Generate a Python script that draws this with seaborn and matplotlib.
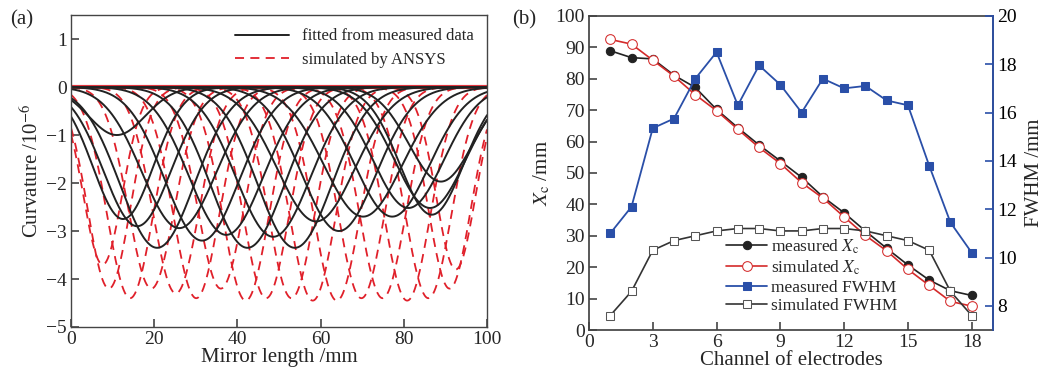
import numpy as np
import pandas as pd
import matplotlib
matplotlib.use('Agg')
import matplotlib.pyplot as plt
import seaborn as sns

# 通道数据
channel = np.arange(1, 19)
xc_measured = [88.9, 86.7, 86.3, 81.1, 77.2, 70.2, 64.4, 58.9, 53.8, 48.6,
               42.4, 37.3, 31.5, 26.0, 20.7, 15.9, 12.5, 11.0]
xc_simulated = [92.5, 91.0, 85.9, 80.8, 74.9, 69.8, 63.9, 58.1, 53.0, 46.9,
                42.0, 36.0, 30.1, 25.2, 19.3, 14.2, 9.1, 7.6]
fwhm_measured = [11.0, 12.1, 15.35, 15.75, 17.4, 18.5, 16.3, 17.95, 17.15, 16.0,
                 17.4, 17.0, 17.1, 16.5, 16.3, 13.8, 11.45, 10.2]
fwhm_simulated = [7.6, 8.6, 10.3, 10.7, 10.9, 11.1, 11.2, 11.2, 11.1, 11.1,
                  11.2, 11.2, 11.1, 10.9, 10.7, 10.3, 8.6, 7.6]
# 曲率峰值深度 (单位 1e-6)
depth_measured = [1.97, 2.66, 2.52, 2.52, 2.7, 2.7, 3.0, 2.8, 3.35, 3.12,
                  3.35, 3.08, 3.2, 2.94, 3.35, 2.9, 2.75, 1.0]
depth_simulated = [3.8, 4.2, 4.4, 4.45, 4.4, 4.4, 4.45, 4.45, 4.4, 4.4,
                   4.45, 4.2, 4.4, 4.3, 4.2, 4.4, 4.2, 3.7]
# 曲率曲线在 (a) 中的视宽 (mm), 从图中估计
width_fit = [18, 18, 20, 20, 21, 22, 21, 22, 21, 21, 21, 21, 21, 21, 21, 19, 17, 16]
width_sim = [11, 12, 13, 13, 13, 13, 13, 13, 13, 13, 13, 13, 13, 13, 13, 13, 12, 11]

x = np.linspace(0, 100, 601)
rows = []
for i in range(18):
    for kind, xc, fw, d in [('fit', xc_measured[i], width_fit[i], depth_measured[i]),
                            ('sim', xc_simulated[i], width_sim[i], depth_simulated[i])]:
        y = -d * np.exp(-4 * np.log(2) * (x - xc) ** 2 / fw ** 2)
        rows.append(pd.DataFrame({'x': x, 'y': y, 'kind': kind, 'ch': i}))
curves = pd.concat(rows, ignore_index=True)

sns.set_theme(style='ticks')
plt.rcParams['font.family'] = ['Liberation Serif', 'DejaVu Serif']
plt.rcParams['mathtext.fontset'] = 'stix'

red = '#e0202a'
dash = (0, (5, 3.5))
tick_kw = dict(direction='in', labelsize=14, length=6, width=1.2, pad=3)

fig = plt.figure(figsize=(10.51, 3.74), dpi=100)
ax1 = fig.add_axes([0.0676, 0.1257, 0.3958, 0.834])
ax2 = fig.add_axes([0.5604, 0.1176, 0.3844, 0.840])

# (a)
sim = curves[curves['kind'] == 'sim']
fit = curves[curves['kind'] == 'fit']
sns.lineplot(data=sim, x='x', y='y', units='ch', estimator=None, color=red,
             linestyle=dash, linewidth=1.3, ax=ax1)
sns.lineplot(data=fit, x='x', y='y', units='ch', estimator=None, color='#222222',
             linewidth=1.4, ax=ax1)
ax1.axhline(0, color=red, linewidth=3.0, alpha=0.9, zorder=1)
ax1.set_xlim(0, 100)
ax1.set_ylim(-5, 1.5)
ax1.set_xticks([0, 20, 40, 60, 80, 100])
ax1.set_yticks([-5, -4, -3, -2, -1, 0, 1])
ax1.set_yticklabels(['\u22125', '\u22124', '\u22123', '\u22122', '\u22121', '0', '1'])
ax1.set_xlabel('Mirror length /mm', fontsize=15, labelpad=0)
ax1.set_ylabel('Curvature /10$^{-6}$', fontsize=15, labelpad=2)
ax1.tick_params(axis='both', bottom=True, left=True, color='#444444', **tick_kw)
for s in ax1.spines.values():
    s.set_visible(True)
    s.set_color('#444444')
    s.set_linewidth(1.0)
ax1.plot([], [], color='#222222', linewidth=1.4, label='fitted from measured data')
ax1.plot([], [], color=red, linestyle=dash, linewidth=1.3, label='simulated by ANSYS')
h, l = ax1.get_legend_handles_labels()
ax1.legend(h[-2:], l[-2:], loc='upper right', frameon=False, fontsize=12,
           handlelength=3.2, borderaxespad=0.4, labelspacing=0.45)
fig.text(0.010, 0.935, '(a)', fontsize=15)

# (b)
dfb = pd.DataFrame({'channel': channel, 'xc_m': xc_measured, 'xc_s': xc_simulated,
                    'fw_m': fwhm_measured, 'fw_s': fwhm_simulated})
sns.lineplot(data=dfb, x='channel', y='xc_m', color='#222222', marker='o', markersize=6,
             markerfacecolor='#222222', markeredgecolor='#222222', linewidth=1.2, ax=ax2,
             label='measured $X_{\\mathrm{c}}$', legend=False)
sns.lineplot(data=dfb, x='channel', y='xc_s', color='#d42a2a', marker='o', markersize=7,
             markerfacecolor='white', markeredgecolor='#d42a2a', linewidth=1.2, ax=ax2,
             label='simulated $X_{\\mathrm{c}}$', legend=False)
ax3 = ax2.twinx()
sns.lineplot(data=dfb, x='channel', y='fw_m', color='#2a4fa8', marker='s', markersize=6,
             markerfacecolor='#2a4fa8', markeredgecolor='#2a4fa8', linewidth=1.3, ax=ax3,
             label='measured FWHM', legend=False)
sns.lineplot(data=dfb, x='channel', y='fw_s', color='#333333', marker='s', markersize=6,
             markerfacecolor='white', markeredgecolor='#555555', linewidth=1.2, ax=ax3,
             label='simulated FWHM', legend=False)
ax2.set_xlim(0, 19)
ax2.set_ylim(0, 100)
ax3.set_ylim(7, 20)
ax2.set_xticks(range(0, 19, 3))
ax2.set_yticks(range(0, 101, 10))
ax3.set_yticks(range(8, 21, 2))
ax2.set_xlabel('Channel of electrodes', fontsize=15, labelpad=0)
ax2.set_ylabel('$X_{\\mathrm{c}}$ /mm', fontsize=15, labelpad=2)
ax3.set_ylabel('FWHM /mm', fontsize=15, labelpad=6)
ax2.tick_params(axis='both', bottom=True, left=True, color='#444444', **tick_kw)
ax3.tick_params(axis='y', right=True, color='#2a4fa8', labelcolor='black', **tick_kw)
for s in ax2.spines.values():
    s.set_visible(True)
    s.set_color('#444444')
ax3.spines['right'].set_visible(True)
ax3.spines['right'].set_color('#2a4fa8')
ax3.spines['left'].set_visible(False)
ax3.spines['top'].set_visible(False)
ax3.spines['bottom'].set_visible(False)
h2, l2 = ax2.get_legend_handles_labels()
h3, l3 = ax3.get_legend_handles_labels()
ax3.legend(h2 + h3, l2 + l3, loc='lower left', bbox_to_anchor=(0.3, 0.0), frameon=False,
           fontsize=12.5, handlelength=2.4, handletextpad=0.2, labelspacing=0.15)
fig.text(0.487, 0.935, '(b)', fontsize=15)

fig.savefig('out.png', dpi=100)
